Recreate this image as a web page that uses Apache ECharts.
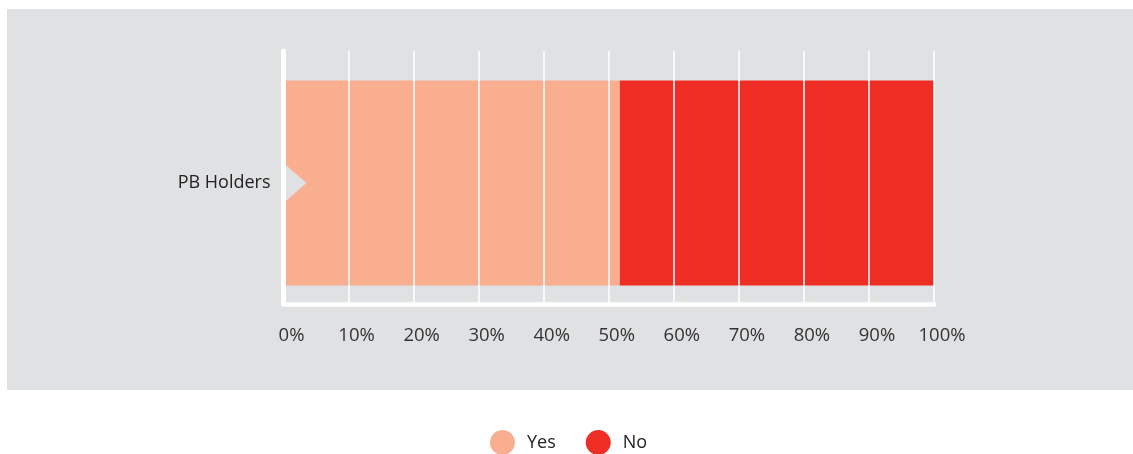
<!DOCTYPE html>
<html>
<head>
<meta charset="utf-8">
<script src="https://cdn.jsdelivr.net/npm/echarts@6/dist/echarts.min.js"></script>
<style>
  html, body { margin: 0; padding: 0; background: #ffffff; }
  #chart { width: 1133px; height: 454px; }
</style>
</head>
<body>
<div id="chart"></div>
<script>
// Survey answers from PB holders, shown as one 100% stacked bar
const categories = ['PB Holders'];
const seriesNames = ['Yes', 'No'];
const yesValues = [51.7];
const noValues = [48.3];
const axisMin = 0;
const axisMax = 100;
const axisStep = 10;

const colors = { Yes: '#f8ae8f', No: '#ee2e24' };
const panel = '#e0e1e3';
const font = 'Open Sans';

const chart = echarts.init(document.getElementById('chart'), null, { renderer: 'canvas' });

chart.setOption({
  animation: false,
  backgroundColor: '#ffffff',
  textStyle: { fontFamily: font },
  graphic: {
    elements: [{
      type: 'rect', z: -100, silent: true,
      shape: { x: 7, y: 9, width: 1126, height: 381 },
      style: { fill: panel }
    }]
  },
  grid: [
    // frame grid: gridlines, axis lines and percentage labels
    { left: 283.5, right: 199, top: 51, bottom: 150 },
    // bar grid
    { left: 283.5, right: 199, top: 62, bottom: 150 }
  ],
  xAxis: [{
    gridIndex: 0, type: 'value', min: axisMin, max: axisMax, interval: axisStep, z: 5,
    axisLine: { show: true, lineStyle: { color: '#ffffff', width: 4.5 } },
    axisTick: { show: false },
    splitLine: { show: true, lineStyle: { color: '#ffffff', width: 1.5 } },
    axisLabel: {
      formatter: '{value}%', color: '#333333', fontSize: 18.5, fontFamily: font,
      margin: 22, padding: [0, 0, 0, 16]
    }
  }, {
    gridIndex: 1, type: 'value', min: axisMin, max: axisMax, show: false
  }],
  yAxis: [{
    gridIndex: 0, type: 'value', min: 0, max: 1, z: 5,
    axisLine: { show: true, onZero: false, lineStyle: { color: '#ffffff', width: 5 } },
    axisTick: { show: false }, axisLabel: { show: false }, splitLine: { show: false }
  }, {
    gridIndex: 1, type: 'category', data: categories,
    axisLine: { show: false }, axisTick: { show: false }, splitLine: { show: false },
    axisLabel: { color: '#222222', fontSize: 18, fontFamily: font, margin: 13 }
  }],
  legend: {
    data: seriesNames,
    bottom: -6, left: 485,
    icon: 'circle', itemWidth: 25, itemHeight: 25, itemGap: 30,
    textStyle: { color: '#222222', fontSize: 18, fontFamily: font, padding: [2, 0, 0, 7] }
  },
  series: [{
    name: 'Yes', type: 'bar', stack: 'total', xAxisIndex: 1, yAxisIndex: 1,
    barWidth: 205, data: yesValues, itemStyle: { color: colors.Yes },
    markPoint: {
      silent: true,
      symbol: 'path://M0,0 L1,0.5 L0,1 Z',
      symbolSize: [23, 40], symbolOffset: [11.5, 0],
      itemStyle: { color: panel }, label: { show: false },
      data: [{ coord: [axisMin, categories[0]] }]
    }
  }, {
    name: 'No', type: 'bar', stack: 'total', xAxisIndex: 1, yAxisIndex: 1,
    barWidth: 205, data: noValues, itemStyle: { color: colors.No }
  }]
});
</script>
</body>
</html>
